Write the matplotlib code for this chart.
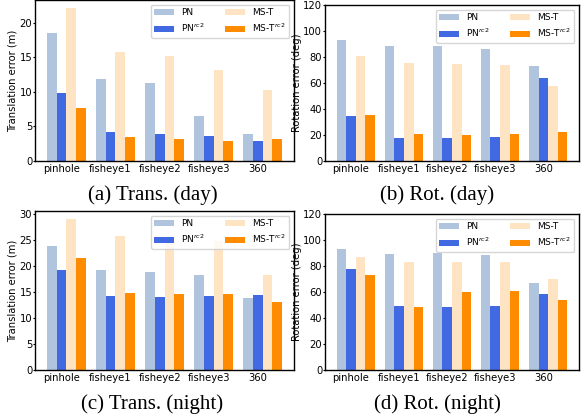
import matplotlib
matplotlib.use("Agg")
import matplotlib.pyplot as plt
import numpy as np

categories = ["pinhole", "fisheye1", "fisheye2", "fisheye3", "360"]
series_names = ["PN", "PN$^{rc2}$", "MS-T", "MS-T$^{rc2}$"]
series_colors = ["#B0C4DE", "#4169E1", "#FFE4C4", "#FF8C00"]

# (a) Translation error, day
trans_day_pn = [18.55, 11.9, 11.3, 6.5, 3.9]
trans_day_pn_rc2 = [9.8, 4.2, 3.9, 3.6, 2.9]
trans_day_mst = [22.2, 15.8, 15.2, 13.2, 10.3]
trans_day_mst_rc2 = [7.7, 3.5, 3.2, 2.9, 3.2]

# (b) Rotation error, day
rot_day_pn = [93.1, 88.5, 88.5, 86.2, 73.1]
rot_day_pn_rc2 = [34.6, 17.7, 17.7, 18.5, 63.8]
rot_day_mst = [80.8, 75.4, 74.6, 73.8, 57.7]
rot_day_mst_rc2 = [35.4, 20.8, 20.0, 20.8, 22.3]

# (c) Translation error, night
trans_night_pn = [23.9, 19.3, 18.9, 18.3, 13.9]
trans_night_pn_rc2 = [19.3, 14.3, 14.1, 14.3, 14.45]
trans_night_mst = [29.2, 25.8, 24.8, 24.8, 18.3]
trans_night_mst_rc2 = [21.6, 14.8, 14.65, 14.65, 13.1]

# (d) Rotation error, night
rot_night_pn = [93.1, 89.3, 90.1, 88.5, 67.0]
rot_night_pn_rc2 = [77.8, 49.4, 48.6, 49.4, 58.6]
rot_night_mst = [87.0, 83.1, 83.1, 83.1, 70.1]
rot_night_mst_rc2 = [73.2, 48.6, 60.1, 60.9, 54.0]

panels = [
    ([trans_day_pn, trans_day_pn_rc2, trans_day_mst, trans_day_mst_rc2],
     "Translation error (m)", None, "(a) Trans. (day)"),
    ([rot_day_pn, rot_day_pn_rc2, rot_day_mst, rot_day_mst_rc2],
     "Rotation error (deg)", (0, 120), "(b) Rot. (day)"),
    ([trans_night_pn, trans_night_pn_rc2, trans_night_mst, trans_night_mst_rc2],
     "Translation error (m)", None, "(c) Trans. (night)"),
    ([rot_night_pn, rot_night_pn_rc2, rot_night_mst, rot_night_mst_rc2],
     "Rotation error (deg)", (0, 120), "(d) Rot. (night)"),
]

W, H = 586, 416
fig = plt.figure(figsize=(W / 100, H / 100), dpi=100)

# axes boxes in pixels: left, top, right, bottom
boxes = [
    (35, 0, 294, 161),
    (325, 5, 579, 161),
    (35, 211, 294, 370.3),
    (325, 214, 579, 370.3),
]
captions_pos = [(152.5, 195), (437, 195), (152.5, 404), (437, 404)]

x = np.arange(len(categories))
w = 0.2
fs = 7.2

for (series, ylabel, ylim, caption), box, cpos in zip(panels, boxes, captions_pos):
    l, t, r, b = box
    ax = fig.add_axes([l / W, 1 - b / H, (r - l) / W, (b - t) / H])
    for i, (vals, name, col) in enumerate(zip(series, series_names, series_colors)):
        ax.bar(x + (i - 1) * w, vals, w, color=col, label=name)
    if ylim is not None:
        ax.set_ylim(*ylim)
    ax.set_xticks(x)
    ax.set_xticklabels(categories, fontsize=fs)
    ax.tick_params(axis="x", length=0, pad=2)
    ax.tick_params(axis="y", length=1.5, pad=0.5, labelsize=fs)
    ax.set_ylabel(ylabel, fontsize=fs, labelpad=1)
    for s in ax.spines.values():
        s.set_linewidth(1.0)
        s.set_color("black")
    ax.legend(loc="upper right", ncol=2, fontsize=6.5, frameon=True,
              columnspacing=2.2, handlelength=2.2)
    fig.text(cpos[0] / W, 1 - cpos[1] / H, caption, ha="center", va="center",
             fontsize=15, family="Liberation Serif")

fig.savefig("out.png", dpi=100)
